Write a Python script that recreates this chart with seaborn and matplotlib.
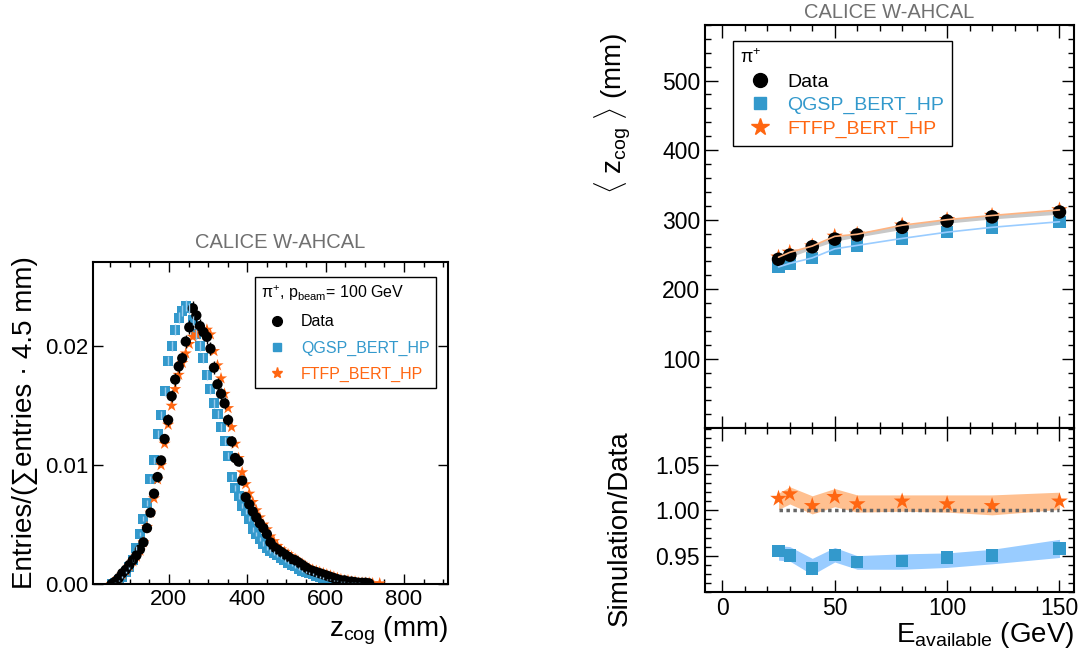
import matplotlib
matplotlib.use('Agg')
import matplotlib.pyplot as plt
import numpy as np
import seaborn as sns
from matplotlib.lines import Line2D
from matplotlib.ticker import MultipleLocator

nan = np.nan

# ---- left panel: z_cog distribution for 100 GeV pi+ (9 mm steps)
zcog = [54, 63, 72, 81, 90, 99, 108, 117, 126, 135,
        144, 153, 162, 171, 180, 189, 198, 207, 216, 225,
        234, 243, 252, 261, 270, 279, 288, 297, 306, 315,
        324, 333, 342, 351, 360, 369, 378, 387, 396, 405,
        414, 423, 432, 441, 450, 459, 468, 477, 486, 495,
        504, 513, 522, 531, 540, 549, 558, 567, 576, 585,
        594, 603, 612, 621, 630, 639, 648, 657, 666, 675,
        684, 693, 702, 711, 720, 729, 738]
data_y = [0.0000, 0.0002, 0.0005, 0.0009, 0.0012, 0.0016, 0.0020, 0.0024, 0.0029, 0.0035,
          0.0047, 0.0060, 0.0076, 0.0090, 0.0104, 0.0122, 0.0138, 0.0158, 0.0172, 0.0183,
          0.0190, 0.0204, 0.0216, 0.0232, 0.0226, 0.0217, 0.0212, 0.0208, 0.0198, 0.0182,
          0.0168, 0.0160, 0.0152, 0.0138, 0.0120, 0.0106, 0.0103, 0.0087, 0.0073, 0.0067,
          0.0061, 0.0056, 0.0051, 0.0047, 0.0042, 0.0035, 0.0031, 0.0029, 0.0027, 0.0025,
          0.0023, 0.0021, 0.0020, 0.0018, 0.0016, 0.0014, 0.0012, 0.0011, 0.0010, 0.0009,
          0.0008, 0.0007, 0.0006, 0.0005, 0.0004, 0.0003, 0.0003, 0.0002, 0.0002, 0.00015,
          0.0001, 0.0001, 0.0001, 0.00005, nan, nan, nan]
qgsp_y = [0.0000, 0.0001, 0.0003, 0.0006, 0.0010, 0.0014, 0.0020, 0.0030, 0.0042, 0.0055,
          0.0068, 0.0088, 0.0104, 0.0126, 0.0142, 0.0162, 0.0188, 0.0200, 0.0214, 0.0224,
          0.0230, 0.0234, 0.0232, 0.0222, 0.0210, 0.0200, 0.0190, 0.0176, 0.0164, 0.0152,
          0.0143, 0.0132, 0.0120, 0.0108, 0.0090, 0.0081, 0.0074, 0.0066, 0.0061, 0.0055,
          0.0046, 0.0042, 0.0038, 0.0034, 0.0030, 0.0028, 0.0026, 0.0024, 0.0022, 0.0020,
          0.0018, 0.0016, 0.0015, 0.0013, 0.0011, 0.0010, 0.0009, 0.0008, 0.0007, 0.0006,
          0.0005, 0.0004, 0.0004, 0.0003, 0.0003, 0.0002, 0.0002, 0.0001, 0.0001, 0.0001,
          0.0001, 0.00005, 0.0000, nan, nan, nan, nan]
ftfp_y = [0.0000, 0.0002, 0.0005, 0.0008, 0.0011, 0.0015, 0.0019, 0.0023, 0.0028, 0.0035,
          0.0048, 0.0060, 0.0072, 0.0088, 0.0100, 0.0118, 0.0134, 0.0150, 0.0164, 0.0176,
          0.0186, 0.0194, 0.0202, 0.0208, 0.0210, 0.0212, 0.0213, 0.0214, 0.0210, 0.0196,
          0.0184, 0.0173, 0.0160, 0.0148, 0.0132, 0.0118, 0.0106, 0.0094, 0.0084, 0.0076,
          0.0069, 0.0062, 0.0056, 0.0050, 0.0046, 0.0040, 0.0036, 0.0032, 0.0029, 0.0027,
          0.0025, 0.0023, 0.0021, 0.0019, 0.0017, 0.0015, 0.0013, 0.0012, 0.0011, 0.0010,
          0.0009, 0.0008, 0.0007, 0.0006, 0.0005, 0.0004, 0.0003, 0.0003, 0.0002, 0.0002,
          0.0001, 0.0001, 0.0001, 0.0001, 0.00005, nan, 0.00005]

# ---- right panel: mean z_cog vs available energy
energy = [25, 30, 40, 50, 60, 80, 100, 120, 150]
data_mean = [243, 249, 261, 272, 278, 289, 298, 304, 311]
data_lo = [240, 246, 258, 269, 275, 286, 295, 301, 308]
data_hi = [246, 252, 264, 275, 281, 292, 301, 307, 314]
qgsp_mean = [232, 237, 245, 258, 263, 273, 282, 289, 297]
ftfp_mean = [246, 253, 262, 276, 279, 292, 300, 306, 314]

qgsp_ratio = [0.955, 0.950, 0.936, 0.951, 0.943, 0.944, 0.948, 0.950, 0.958]
qgsp_lo = [0.945, 0.944, 0.929, 0.943, 0.935, 0.935, 0.937, 0.941, 0.948]
qgsp_hi = [0.961, 0.960, 0.947, 0.959, 0.950, 0.952, 0.953, 0.957, 0.968]
ftfp_ratio = [1.013, 1.018, 1.005, 1.015, 1.007, 1.010, 1.007, 1.005, 1.010]
ftfp_lo = [1.001, 1.007, 0.996, 1.004, 0.998, 0.999, 0.998, 0.995, 1.001]
ftfp_hi = [1.019, 1.026, 1.016, 1.024, 1.017, 1.017, 1.017, 1.017, 1.020]

BLUE = '#3399cc'
ORANGE = '#ff6611'
GRAY_TXT = '#707070'

sns.set_theme(style='ticks')
plt.rcParams['font.family'] = ['Liberation Sans', 'DejaVu Sans']
plt.rcParams['mathtext.fontset'] = 'custom'
plt.rcParams['mathtext.rm'] = 'Liberation Sans'
plt.rcParams['mathtext.it'] = 'Liberation Sans:italic'
plt.rcParams['axes.linewidth'] = 1.5
plt.rcParams['axes.edgecolor'] = 'black'
plt.rcParams['axes.labelcolor'] = 'black'
plt.rcParams['text.color'] = 'black'
plt.rcParams['xtick.color'] = 'black'
plt.rcParams['ytick.color'] = 'black'

fig = plt.figure(figsize=(10.81, 6.6), dpi=100)
ax1 = fig.add_axes([0.0863, 0.1152, 0.3284, 0.4879])
ax2 = fig.add_axes([0.6522, 0.3511, 0.3414, 0.6111])
ax3 = fig.add_axes([0.6522, 0.1026, 0.3414, 0.2485], sharex=ax2)

# left panel
ax1.errorbar(zcog, qgsp_y, yerr=0.003 * np.sqrt(np.nan_to_num(qgsp_y)), fmt='none',
             ecolor='#99ccee', elinewidth=1)
sns.scatterplot(x=zcog, y=qgsp_y, marker='s', s=52, color=BLUE, edgecolor='none', ax=ax1)
sns.scatterplot(x=zcog, y=ftfp_y, marker='*', s=85, color=ORANGE, edgecolor='none', ax=ax1)
ax1.errorbar(zcog, data_y, yerr=0.004 * np.sqrt(np.nan_to_num(data_y)), fmt='none',
             ecolor='black', elinewidth=1)
sns.scatterplot(x=zcog, y=data_y, marker='o', s=55, color='black', edgecolor='none', ax=ax1)

ax1.set_xlim(7, 913)
ax1.set_ylim(0, 0.0271)
ax1.set_yticks([0.0, 0.01, 0.02])
ax1.set_yticklabels(['0.00', '0.01', '0.02'])
ax1.set_xticks([200, 400, 600, 800])
ax1.xaxis.set_minor_locator(MultipleLocator(50))
ax1.tick_params(which='both', direction='in', top=True, right=True, labelsize=16, width=1)
ax1.tick_params(which='major', length=7)
ax1.tick_params(which='minor', length=3.5)
ax1.set_xlabel(r'z$_{\rm cog}$ (mm)', fontsize=20, ha='right')
ax1.set_ylabel('Entries/(∑entries · 4.5 mm)', fontsize=20)
ax1.yaxis.set_label_coords(-0.155, 0.5)
ax1.xaxis.set_label_coords(1.0, -0.095)
ax1.text(0.526, 1.059, 'CALICE W-AHCAL', transform=ax1.transAxes, ha='center', va='center',
         fontsize=14.5, color=GRAY_TXT)

h1 = [Line2D([], [], ls='none', marker='o', color='black', markersize=7),
      Line2D([], [], ls='none', marker='s', color=BLUE, markersize=6),
      Line2D([], [], ls='none', marker='*', color=ORANGE, markersize=8)]
leg1 = ax1.legend(h1, ['Data', 'QGSP_BERT_HP', 'FTFP_BERT_HP'], loc='upper left',
                  bbox_to_anchor=(0.455, 0.953), fontsize=11.5, frameon=True, fancybox=False,
                  edgecolor='black', framealpha=1, borderaxespad=0, handletextpad=0.5,
                  title='π$^{+}$, p$_{\\rm beam}$= 100 GeV', title_fontsize=11.5,
                  alignment='left', labelspacing=0.7)
leg1.get_frame().set_linewidth(1)
for t, c in zip(leg1.get_texts(), ['black', BLUE, ORANGE]):
    t.set_color(c)

# right top panel
ax2.fill_between(energy, data_lo, data_hi, color='#c8c8c8', lw=0)
sns.lineplot(x=energy, y=qgsp_mean, color='#99ccff', lw=1.2, ax=ax2)
sns.lineplot(x=energy, y=ftfp_mean, color='#ffb380', lw=1.2, ax=ax2)
sns.scatterplot(x=energy, y=qgsp_mean, marker='s', s=80, color=BLUE, edgecolor='none', ax=ax2)
sns.scatterplot(x=energy, y=ftfp_mean, marker='*', s=150, color=ORANGE, edgecolor='none', ax=ax2)
sns.scatterplot(x=energy, y=data_mean, marker='o', s=95, color='black', edgecolor='none', ax=ax2)

ax2.set_ylim(0, 580)
ax2.set_yticks([100, 200, 300, 400, 500])
ax2.yaxis.set_minor_locator(MultipleLocator(20))
ax2.set_ylabel(r'$\langle$ z$_{\rm cog}$ $\rangle$ (mm)', fontsize=20)
ax2.yaxis.set_label_coords(-0.195, 0.78)
ax2.tick_params(labelbottom=False)
ax2.text(0.5, 1.032, 'CALICE W-AHCAL', transform=ax2.transAxes, ha='center', va='center',
         fontsize=14.5, color=GRAY_TXT)

h2 = [Line2D([], [], ls='none', marker='o', color='black', markersize=10),
      Line2D([], [], ls='none', marker='s', color=BLUE, markersize=9),
      Line2D([], [], ls='none', marker='*', color=ORANGE, markersize=13)]
leg2 = ax2.legend(h2, ['Data', 'QGSP_BERT_HP', 'FTFP_BERT_HP'], loc='upper left',
                  bbox_to_anchor=(0.075, 0.961), fontsize=14, frameon=True, fancybox=False,
                  edgecolor='black', framealpha=1, borderaxespad=0, handletextpad=0.4,
                  title='π$^{+}$', title_fontsize=13, alignment='left', labelspacing=0.3)
leg2.get_frame().set_linewidth(1)
for t, c in zip(leg2.get_texts(), ['black', BLUE, ORANGE]):
    t.set_color(c)

# ratio panel
ax3.fill_between(energy, qgsp_lo, qgsp_hi, color='#99ccff', lw=0)
ax3.fill_between(energy, ftfp_lo, ftfp_hi, color='#ffc090', lw=0)
ax3.plot([energy[0], energy[-1]], [1.0, 1.0], ls=(0, (1, 1)), color='#666666', lw=2.5)
sns.scatterplot(x=energy, y=qgsp_ratio, marker='s', s=80, color=BLUE, edgecolor='none', ax=ax3)
sns.scatterplot(x=energy, y=ftfp_ratio, marker='*', s=160, color=ORANGE, edgecolor='none', ax=ax3)

ax3.set_ylim(0.9096, 1.0905)
ax3.set_yticks([0.95, 1.00, 1.05])
ax3.set_yticklabels(['0.95', '1.00', '1.05'])
ax3.yaxis.set_minor_locator(MultipleLocator(0.01))
ax3.set_xlim(-7.7, 156.5)
ax3.set_xticks([0, 50, 100, 150])
ax3.xaxis.set_minor_locator(MultipleLocator(10))
ax3.set_ylabel('Simulation/Data', fontsize=20)
ax3.yaxis.set_label_coords(-0.195, 0.39)
ax3.set_xlabel(r'E$_{\rm available}$ (GeV)', fontsize=20, ha='right')
ax3.xaxis.set_label_coords(1.0, -0.17)

for ax in (ax2, ax3):
    ax.tick_params(which='both', direction='in', top=True, right=True, labelsize=16.5, width=1)
    ax.tick_params(which='major', length=9)
    ax.tick_params(which='minor', length=4.5)

fig.savefig('out.png', dpi=100)
